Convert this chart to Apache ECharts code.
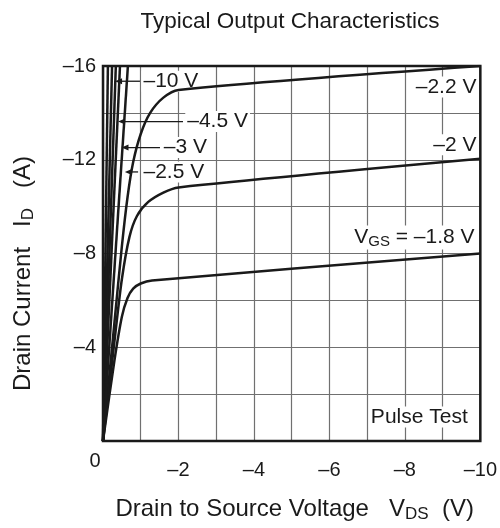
<!DOCTYPE html>
<html>
<head>
<meta charset="utf-8">
<script src="https://cdn.jsdelivr.net/npm/echarts@6/dist/echarts.min.js"></script>
<style>
html,body{margin:0;padding:0;background:#fff}
#main{width:500px;height:528px}
</style>
</head>
<body>
<div id="main"></div>
<script>
// VDS (V) / ID (A) pairs
var vgs18_v = [0, -0.3, -0.5, -0.65, -0.8, -1.0, -1.3, -10];
var vgs18_i = [0, -3.4, -5.3, -6.1, -6.5, -6.72, -6.85, -8.0];
var vgs20_v = [0, -0.3, -0.5, -0.7, -0.9, -1.2, -1.6, -2.0, -10];
var vgs20_i = [0, -4.2, -6.9, -8.7, -9.6, -10.2, -10.6, -10.82, -12.04];
var vgs22_v = [0, -0.3, -0.5, -0.65, -0.8, -1.0, -1.25, -1.6, -2.0, -10];
var vgs22_i = [0, -5.0, -8.3, -10.4, -11.9, -13.1, -14.0, -14.65, -14.98, -16.0];
// the steep curves (-2.5 V .. -10 V) run straight out of the top
var steep_v = [-0.13, -0.24, -0.34, -0.45, -0.66];
var steep_i = [-16, -16, -16, -16, -16];

// curve labels: [text, VDS, ID, align]
var labels = [
  ['–10 V', -1.02, -15.35, 'left'],
  ['–4.5 V', -2.18, -13.63, 'left'],
  ['–3 V', -1.56, -12.52, 'left'],
  ['–2.5 V', -1.02, -11.48, 'left'],
  ['–2.2 V', -9.95, -15.1, 'right'],
  ['–2 V', -9.95, -12.64, 'right'],
  ['V{s|GS} = –1.8 V', -9.9, -8.68, 'right'],
  ['Pulse Test', -9.72, -1.02, 'right']
];
// leader arrows: [tip VDS, end VDS, ID]
var leaders = [
  [-0.32, -0.98, -15.35],
  [-0.40, -2.12, -13.63],
  [-0.49, -1.51, -12.52],
  [-0.58, -0.93, -11.48]
];

function pairs(xs, ys) {
  var out = [];
  for (var i = 0; i < xs.length; i++) out.push([xs[i], ys[i]]);
  return out;
}

var ink = '#1a1a1a';
var font = '"Liberation Sans", Arial, sans-serif';

var series = [];
function curve(name, data) {
  series.push({
    name: name,
    type: 'line',
    data: data,
    showSymbol: false,
    smooth: 0.3,
    lineStyle: {color: ink, width: 2.5},
    silent: true,
    z: 3
  });
}
curve('-1.8', pairs(vgs18_v, vgs18_i));
curve('-2', pairs(vgs20_v, vgs20_i));
curve('-2.2', pairs(vgs22_v, vgs22_i));
for (var k = 0; k < steep_v.length; k++) {
  curve('steep' + k, [[0, 0], [steep_v[k], steep_i[k]]]);
}

var sub = {fontSize: 17, padding: [10, 0, 0, 0], color: ink, fontFamily: font};

var chart = echarts.init(document.getElementById('main'));
chart.setOption({
  animation: false,
  backgroundColor: '#fff',
  textStyle: {fontFamily: font},
  title: {
    text: 'Typical Output Characteristics',
    left: 285, top: 5, textAlign: 'center',
    textStyle: {fontSize: 22.5, fontWeight: 'normal', color: ink, fontFamily: font}
  },
  grid: {left: 103, right: 19, top: 66, bottom: 86, show: true, borderColor: ink, borderWidth: 2.5, z: 4},
  xAxis: {
    type: 'value', min: -10, max: 0, interval: 1, inverse: true,
    name: 'Drain to Source Voltage   V{s|DS}  (V)',
    nameLocation: 'middle', nameGap: 55,
    nameTextStyle: {fontSize: 24, color: ink, fontFamily: font, rich: {s: sub}, padding: [0, 0, 0, 6]},
    axisLine: {show: false},
    axisTick: {show: false},
    axisLabel: {fontSize: 20, color: ink, margin: 19,
      formatter: function (v) { return (v % 2 === 0 && v !== 0) ? '–' + Math.abs(v) : ''; }},
    splitLine: {show: true, lineStyle: {color: '#707070', width: 1.2}}
  },
  yAxis: {
    type: 'value', min: -16, max: 0, interval: 2, inverse: true,
    name: 'Drain Current   I{s|D}   (A)',
    nameLocation: 'middle', nameGap: 66, nameRotate: 90,
    nameTextStyle: {fontSize: 24, color: ink, fontFamily: font, rich: {s: sub}, padding: [0, 40, 0, 0]},
    axisLine: {show: false},
    axisTick: {show: false},
    axisLabel: {fontSize: 20, color: ink, margin: 7,
      formatter: function (v) { return (v % 4 === 0 && v !== 0) ? '–' + Math.abs(v) : ''; }},
    splitLine: {show: true, lineStyle: {color: '#707070', width: 1.2}}
  },
  series: series
});

// annotations placed from data coordinates
var px = function (p) { return chart.convertToPixel({gridIndex: 0}, p); };
var graphics = [];
labels.forEach(function (l) {
  var p = px([l[1], l[2]]);
  graphics.push({
    type: 'text', x: p[0], y: p[1], z: 1,
    style: {
      text: l[0], fill: ink, font: '21px ' + font,
      align: l[3], verticalAlign: 'middle',
      backgroundColor: '#fff', padding: [0, 2, 0, 2],
      rich: {s: {fontSize: 15, padding: [9, 0, 0, 0], fill: ink, fontFamily: font}}
    }
  });
});
leaders.forEach(function (a) {
  var t = px([a[0], a[2]]), e = px([a[1], a[2]]);
  graphics.push({type: 'line', z: 9, shape: {x1: t[0] + 4, y1: t[1], x2: e[0], y2: e[1]},
    style: {stroke: ink, lineWidth: 1.3}});
  graphics.push({type: 'polygon', z: 9,
    shape: {points: [[t[0], t[1]], [t[0] + 7, t[1] - 3], [t[0] + 7, t[1] + 3]]},
    style: {fill: ink}});
});
var o = px([0, 0]);
graphics.push({type: 'text', x: o[0] - 8, y: o[1] + 20, z: 10,
  style: {text: '0', fill: ink, font: '20px ' + font, align: 'center', verticalAlign: 'middle'}});
chart.setOption({graphic: graphics});
</script>
</body>
</html>
